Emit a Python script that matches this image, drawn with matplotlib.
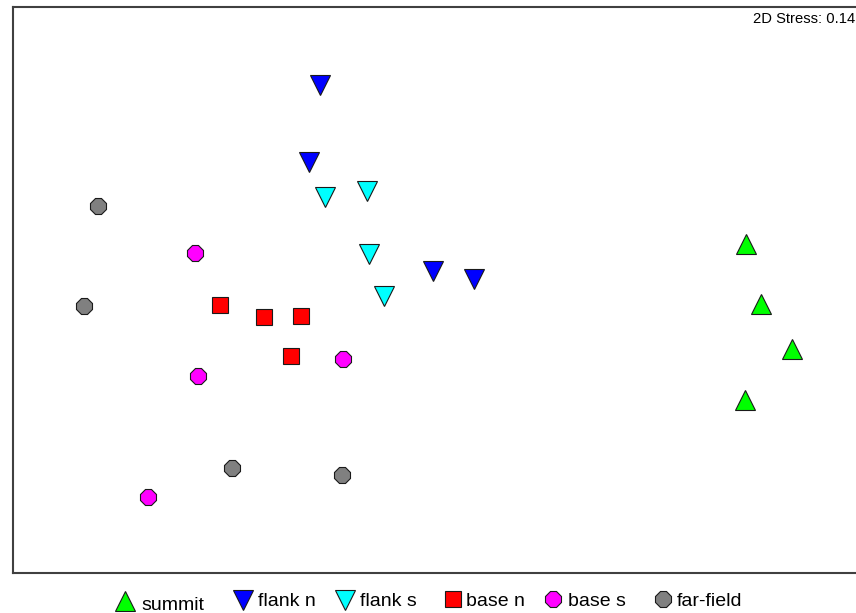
import matplotlib
matplotlib.use("Agg")
import matplotlib.pyplot as plt
from matplotlib.lines import Line2D

plt.rcParams['font.family'] = ['Liberation Sans', 'DejaVu Sans']

# NMDS coordinates (arbitrary units)
groups = ["summit", "flank n", "flank s", "base n", "base s", "far-field"]
summit_x = [1.757, 1.837, 2.013, 1.752]
summit_y = [0.254, -0.078, -0.328, -0.611]
flank_n_x = [-0.611, -0.671, 0.018, 0.246]
flank_n_y = [1.139, 0.713, 0.107, 0.061]
flank_s_x = [-0.583, -0.348, -0.337, -0.256]
flank_s_y = [0.518, 0.550, 0.198, -0.033]
base_n_x = [-1.167, -0.922, -0.718, -0.774]
base_n_y = [-0.083, -0.148, -0.143, -0.365]
base_s_x = [-1.304, -0.483, -1.287, -1.568]
base_s_y = [0.204, -0.385, -0.476, -1.150]
far_x = [-1.846, -1.922, -1.098, -0.489]
far_y = [0.468, -0.087, -0.987, -1.029]
stress = 0.14

xs = [summit_x, flank_n_x, flank_s_x, base_n_x, base_s_x, far_x]
ys = [summit_y, flank_n_y, flank_s_y, base_n_y, base_s_y, far_y]
colors = ["#00FF00", "#0000FF", "#00FFFF", "#FF0000", "#FF00FF", "#808080"]
markers = ["^", "v", "v", "s", "8", "8"]
sizes = [14.5, 14.5, 14.5, 11.5, 12.5, 12.5]

W, H = 856, 613
fig = plt.figure(figsize=(W / 100, H / 100), dpi=100)
ax = fig.add_axes([13 / W, 1 - 573 / H, (860 - 13) / W, (573 - 7) / H])
ax.set_xlim((13 - 430) / 180, (860 - 430) / 180)
ax.set_ylim((290 - 573) / 180, (290 - 7) / 180)
ax.set_xticks([])
ax.set_yticks([])
for s in ax.spines.values():
    s.set_linewidth(1.5)
    s.set_color("#404040")

for gx, gy, c, m, ms in zip(xs, ys, colors, markers, sizes):
    ax.plot(gx, gy, linestyle="none", marker=m, markersize=ms,
            markerfacecolor=c, markeredgecolor="#1a1a1a", markeredgewidth=0.8)

fig.text(855 / W, 1 - 23.3 / H, f"2D Stress: {stress:.2f}", ha="right",
         va="baseline", fontsize=10.6, color="black")

# manual legend
leg_marker_x = [125, 243, 345, 452.5, 553, 663.3]
leg_marker_y = [600.5, 599.5, 599.7, 598.8, 599, 599]
leg_text_x = [141.5, 258, 360, 466.5, 568, 676.5]
leg_base_y = [609.7, 606.3, 606.3, 606.3, 606.3, 606.3]
leg_sizes = [14.5, 14.5, 14.5, 11, 12.5, 12.5]
for i, g in enumerate(groups):
    fig.add_artist(Line2D([leg_marker_x[i] / W], [1 - leg_marker_y[i] / H],
                          transform=fig.transFigure, linestyle="none",
                          marker=markers[i], markersize=leg_sizes[i],
                          markerfacecolor=colors[i], markeredgecolor="#1a1a1a",
                          markeredgewidth=0.8))
    fig.text(leg_text_x[i] / W, 1 - leg_base_y[i] / H, g, ha="left",
             va="baseline", fontsize=14)

fig.savefig("out.png", dpi=100)
